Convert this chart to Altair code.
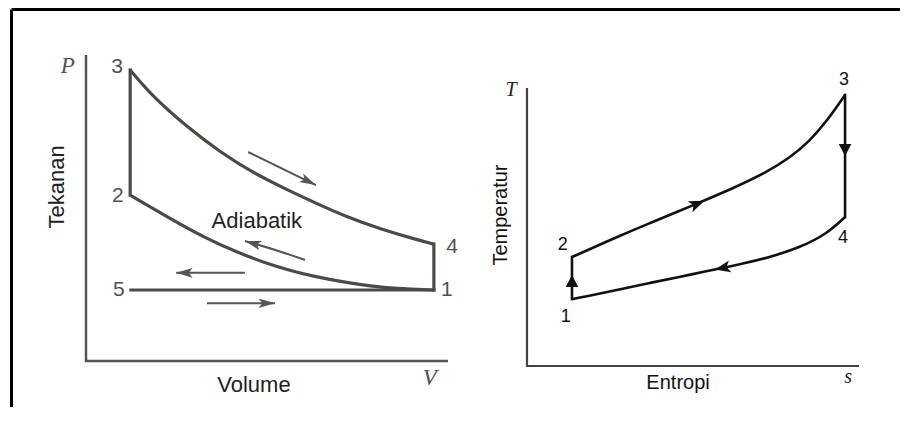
import math
import altair as alt
import pandas as pd

# ---------------- P-V diagram (values in % of axis length) ----------------
pv_axis_V = [0, 0, 100]
pv_axis_P = [100, 0, 0]

expansion_V = [12.2, 18.5, 27.9, 37.0, 46.1, 55.5, 62.7, 72.1, 81.2, 90.3, 96.1]      # 3 -> 4
expansion_P = [95.1, 86.3, 76.5, 68.3, 61.5, 56.0, 52.0, 47.0, 43.2, 40.0, 38.2]
compression_V = [12.2, 14.9, 23.2, 32.3, 41.7, 50.8, 56.4, 62.7, 72.1, 78.5, 85.4, 96.1]  # 1 -> 2
compression_P = [54.2, 52.3, 46.6, 40.6, 35.5, 31.5, 29.6, 27.7, 25.6, 24.5, 23.7, 23.2]
straight_V = [[12.2, 12.2], [96.1, 96.1], [12.4, 96.1]]    # 2-3, 4-1, 5-1
straight_P = [[54.2, 95.1], [38.2, 23.2], [23.2, 23.2]]

pv_arrow_V = [[44.8, 63.5], [60.5, 53.6, 43.9], [43.9, 24.9], [33.4, 52.2]]
pv_arrow_P = [[68.3, 57.5], [33.0, 35.9, 39.2], [28.8, 28.8], [18.9, 18.9]]

pv_point_labels = ["3", "2", "5", "4", "1"]
pv_point_V = [8.6, 8.8, 9.1, 101.1, 99.7]
pv_point_P = [96.1, 53.9, 23.2, 37.3, 23.2]

pv_symbol_labels = ["P", "V"]
pv_symbol_V = [-5.0, 95.0]
pv_symbol_P = [96.4, -5.6]

pv_titles = ["Volume", "Adiabatik"]
pv_titles_V = [46.4, 47.2]
pv_titles_P = [-7.8, 45.8]
pv_ytitle = "Tekanan"
pv_ytitle_V = [-8.0]
pv_ytitle_P = [56.9]

# ---------------- T-s diagram (values in % of axis length) ----------------
ts_axis_s = [0, 0, 100]
ts_axis_T = [100, 0, 0]

heat_in_s = [13.55, 27.1, 37.0, 47.0, 52.1, 62.0, 72.3, 79.2, 85.2, 90.4, 95.8]       # 2 -> 3
heat_in_T = [39.2, 46.4, 51.4, 56.3, 58.9, 63.9, 69.8, 74.9, 81.0, 88.2, 97.5]
heat_out_s = [13.55, 16.9, 27.1, 37.0, 47.0, 52.1, 62.0, 72.3, 82.2, 90.4, 95.8]      # 4 -> 1
heat_out_T = [24.1, 24.8, 27.3, 29.9, 32.3, 33.6, 36.0, 38.8, 42.6, 47.6, 53.6]
ts_straight_s = [[13.55, 13.55], [95.8, 95.8]]      # 1-2, 3-4
ts_straight_T = [[24.1, 39.2], [97.5, 53.6]]

ts_head_s = [13.55, 51.2, 95.8, 59.0]
ts_head_T = [30.6, 58.3, 77.7, 35.3]
ts_head_to_s = [13.55, 52.1, 95.8, 55.0]
ts_head_to_T = [32.0, 58.75, 76.0, 34.3]
ts_head_kind = ["plain", "barb", "plain", "barb"]

ts_point_labels = ["1", "2", "3", "4"]
ts_point_s = [11.7, 10.8, 95.5, 95.2]
ts_point_T = [17.6, 43.5, 102.9, 46.0]

ts_symbol_labels = ["T", "s"]
ts_symbol_s = [-4.8, 96.7]
ts_symbol_T = [99.4, -3.8]

ts_xtitle = "Entropi"
ts_xtitle_s = [45.5]
ts_xtitle_T = [-6.1]
ts_ytitle = "Temperatur"
ts_ytitle_s = [-7.8]
ts_ytitle_T = [54.3]

# ---------------- layout ----------------
VIEW_X0, VIEW_Y0 = 11, 9
W, H = 889, 398
# page pixel positions of value 0 and value 100 on each axis
PV_X0, PV_X100 = 86, 448
PV_Y0, PV_Y100 = 361, 55
TS_X0, TS_X100 = 527, 859
TS_Y0, TS_Y100 = 366, 88


def domain_x(p0, p100):
    k = (p100 - p0) / 100.0
    return [(VIEW_X0 - p0) / k, (VIEW_X0 + W - p0) / k], k


def domain_y(p0, p100):
    k = (p0 - p100) / 100.0
    return [(p0 - (VIEW_Y0 + H)) / k, (p0 - VIEW_Y0) / k], k


pv_xdom, pv_kx = domain_x(PV_X0, PV_X100)
pv_ydom, pv_ky = domain_y(PV_Y0, PV_Y100)
ts_xdom, ts_kx = domain_x(TS_X0, TS_X100)
ts_ydom, ts_ky = domain_y(TS_Y0, TS_Y100)


def heading(dx, dy, kx, ky):
    # clockwise angle from "up" on screen
    return math.degrees(math.atan2(dx * kx, dy * ky)) % 360


def segs(xs_list, ys_list):
    rows = []
    for i, (xs, ys) in enumerate(zip(xs_list, ys_list)):
        for j, (a, b) in enumerate(zip(xs, ys)):
            rows.append({"x": a, "y": b, "seg": i, "ord": j})
    return pd.DataFrame(rows)


def pts(xs, ys, labels=None):
    d = {"x": xs, "y": ys}
    if labels is not None:
        d["t"] = labels
    return pd.DataFrame(d)


FRAME = dict(domain=True, domainColor="#000000", domainWidth=3, ticks=False,
             labels=False, title=None, grid=False)


def enc_pv(ch):
    return ch.encode(
        x=alt.X("x:Q", scale=alt.Scale(domain=pv_xdom, nice=False, zero=False),
                axis=alt.Axis(orient="top", **FRAME)),
        y=alt.Y("y:Q", scale=alt.Scale(domain=pv_ydom, nice=False, zero=False),
                axis=alt.Axis(orient="left", **FRAME)),
    )


def enc_ts(ch):
    return ch.encode(
        x=alt.X("x:Q", scale=alt.Scale(domain=ts_xdom, nice=False, zero=False), axis=None),
        y=alt.Y("y:Q", scale=alt.Scale(domain=ts_ydom, nice=False, zero=False), axis=None),
    )


GREY = "#4b4b45"
SANS = "Liberation Sans"
SERIF = "Liberation Serif"
BARB_HEAD = "M0,0 L0.55,1.9 L0,1.45 L-0.55,1.9 Z"
TRI = "M0,-1 L1.05,1 L-1.05,1 Z"
NOTCH = "M0,-1.1 L0.8,1 L0,0.5 L-0.8,1 Z"

# ---- P-V layers
pv_axes = enc_pv(alt.Chart(segs([pv_axis_V], [pv_axis_P])).mark_line(
    color="#555555", strokeWidth=2.5, strokeCap="butt")).encode(detail="seg:N", order="ord:Q")
pv_curves = enc_pv(alt.Chart(segs([expansion_V, compression_V], [expansion_P, compression_P])).mark_line(
    color=GREY, strokeWidth=3.2, interpolate="basis")).encode(detail="seg:N", order="ord:Q")
pv_straight = enc_pv(alt.Chart(segs(straight_V, straight_P)).mark_line(
    color=GREY, strokeWidth=3.2, strokeCap="square")).encode(detail="seg:N", order="ord:Q")
pv_arrows = enc_pv(alt.Chart(segs(pv_arrow_V, pv_arrow_P)).mark_line(
    color="#555555", strokeWidth=2, interpolate="basis")).encode(detail="seg:N", order="ord:Q")

head_rows = []
for xs, ys in zip(pv_arrow_V, pv_arrow_P):
    head_rows.append({"x": xs[-1], "y": ys[-1],
                      "a": heading(xs[-1] - xs[-2], ys[-1] - ys[-2], pv_kx, pv_ky)})
pv_heads = enc_pv(alt.Chart(pd.DataFrame(head_rows)).mark_point(
    shape=BARB_HEAD, filled=True, color="#555555", size=300, opacity=1)).encode(
    angle=alt.Angle("a:Q", scale=None))

pv_nums = enc_pv(alt.Chart(pts(pv_point_V, pv_point_P, pv_point_labels)).mark_text(
    font=SANS, fontSize=21, color="#505050", align="center", baseline="middle")).encode(text="t:N")
pv_syms = enc_pv(alt.Chart(pts(pv_symbol_V, pv_symbol_P, pv_symbol_labels)).mark_text(
    font=SERIF, fontSize=23, fontStyle="italic", color="#505050", align="center",
    baseline="middle")).encode(text="t:N")
pv_tit = enc_pv(alt.Chart(pts(pv_titles_V, pv_titles_P, pv_titles)).mark_text(
    font=SANS, fontSize=22, color="#222222", align="center", baseline="middle")).encode(text="t:N")
pv_ytit = enc_pv(alt.Chart(pts(pv_ytitle_V, pv_ytitle_P, [pv_ytitle])).mark_text(
    font=SANS, fontSize=22, color="#222222", align="center", baseline="middle",
    angle=270)).encode(text="t:N")

pv_layer = alt.layer(pv_axes, pv_curves, pv_straight, pv_arrows, pv_heads,
                     pv_nums, pv_syms, pv_tit, pv_ytit)

# ---- T-s layers
ts_axes = enc_ts(alt.Chart(segs([ts_axis_s], [ts_axis_T])).mark_line(
    color="#444444", strokeWidth=2.2, strokeCap="butt")).encode(detail="seg:N", order="ord:Q")
ts_curves = enc_ts(alt.Chart(segs([heat_in_s, heat_out_s], [heat_in_T, heat_out_T])).mark_line(
    color="#111111", strokeWidth=2.6, interpolate="basis")).encode(detail="seg:N", order="ord:Q")
ts_straight = enc_ts(alt.Chart(segs(ts_straight_s, ts_straight_T)).mark_line(
    color="#111111", strokeWidth=2.6, strokeCap="square")).encode(detail="seg:N", order="ord:Q")

ts_rows = []
for s0, t0, s1, t1, kind in zip(ts_head_s, ts_head_T, ts_head_to_s, ts_head_to_T, ts_head_kind):
    ts_rows.append({"x": s0, "y": t0, "kind": kind,
                    "a": heading(s1 - s0, t1 - t0, ts_kx, ts_ky)})
ts_df = pd.DataFrame(ts_rows)
ts_heads_plain = enc_ts(alt.Chart(ts_df[ts_df.kind == "plain"]).mark_point(
    shape=TRI, filled=True, color="#111111", size=144, opacity=1)).encode(
    angle=alt.Angle("a:Q", scale=None))
ts_heads_barb = enc_ts(alt.Chart(ts_df[ts_df.kind == "barb"]).mark_point(
    shape=NOTCH, filled=True, color="#111111", size=220, opacity=1)).encode(
    angle=alt.Angle("a:Q", scale=None))

ts_nums = enc_ts(alt.Chart(pts(ts_point_s, ts_point_T, ts_point_labels)).mark_text(
    font=SANS, fontSize=18, color="#111111", align="center", baseline="middle")).encode(text="t:N")
ts_syms = enc_ts(alt.Chart(pts(ts_symbol_s, ts_symbol_T, ts_symbol_labels)).mark_text(
    font=SERIF, fontSize=20, fontStyle="italic", color="#222222", align="center",
    baseline="middle")).encode(text="t:N")
ts_xtit = enc_ts(alt.Chart(pts(ts_xtitle_s, ts_xtitle_T, [ts_xtitle])).mark_text(
    font=SANS, fontSize=20, color="#111111", align="center", baseline="middle")).encode(text="t:N")
ts_ytit = enc_ts(alt.Chart(pts(ts_ytitle_s, ts_ytitle_T, [ts_ytitle])).mark_text(
    font=SANS, fontSize=20, color="#111111", align="center", baseline="middle",
    angle=270)).encode(text="t:N")

ts_layer = alt.layer(ts_axes, ts_curves, ts_straight, ts_heads_plain, ts_heads_barb,
                     ts_nums, ts_syms, ts_xtit, ts_ytit)

chart = alt.layer(pv_layer, ts_layer).resolve_scale(
    x="independent", y="independent").resolve_axis(
    x="independent", y="independent").properties(
    width=W, height=H, autosize=alt.AutoSizeParams(type="none"),
    padding={"left": VIEW_X0 - 8, "top": VIEW_Y0 - 8, "right": 0, "bottom": 0},
    background="white").configure_view(stroke=None)

chart.save("out.html", embed_options={"renderer": "svg", "actions": False})
